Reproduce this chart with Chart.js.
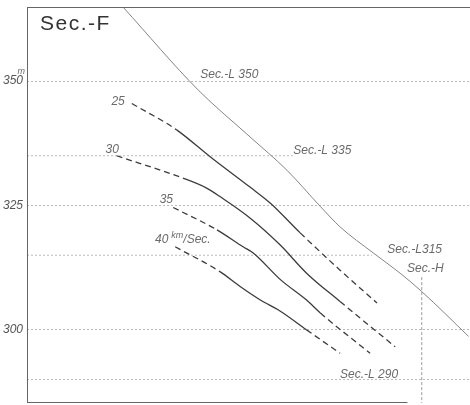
<!DOCTYPE html>
<html>
<head>
<meta charset="utf-8">
<script src="https://cdn.jsdelivr.net/npm/chart.js@4"></script>
<style>
  html, body { margin: 0; padding: 0; background: #fff; }
  #wrap { width: 470px; height: 405px; position: relative; }
</style>
</head>
<body>
<div id="wrap"><canvas id="secChart"></canvas></div>
<script>
// y-axis (height in m)
const gridLevels = [290, 300, 325, 350];
const labelledLevels = [300, 325, 350];

// velocity curves (km/Sec.)
const velocities = ['25', '30', '35', '40'];
const v25x = [21.3, 30.4, 37.2, 45.3, 49.4, 55.5, 63.6, 71.1];
const v25y = [345.5, 340.2, 334.8, 328.7, 325.5, 319.5, 312.0, 305.4];
const v30x = [18.2, 31.7, 36.5, 39.2, 45.3, 51.4, 56.8, 63.6, 74.8];
const v30y = [335.0, 330.5, 328.5, 326.8, 322.5, 317.1, 311.4, 305.7, 296.6];
const v35x = [29.7, 38.6, 43.9, 45.9, 51.6, 56.8, 59.6, 69.7];
const v35y = [324.6, 320.1, 316.7, 315.5, 310.0, 306.0, 303.4, 295.3];
const v40x = [30.1, 39.2, 43.3, 47.4, 51.4, 56.8, 63.6];
const v40y = [316.7, 311.7, 308.7, 306.0, 303.8, 300.0, 295.3];

// surface line
const topX = [19.5, 34.8, 45.3, 52.8, 59.6, 63.6, 70.3, 75.8, 80.2, 89.7];
const topY = [364.9, 348.2, 338.8, 332.1, 324.8, 320.7, 315.5, 311.4, 307.7, 298.7];

// sections
const secLevels = [335, 315];
const secEndX = [54.1, 70.1];
const secHx = 80.2;
const secHy = [310.6, 285.3];

const pts = (xs, ys) => xs.map((x, i) => ({ x: x, y: ys[i] }));

const curveColor = '#3c3c3c';
const labelColor = '#6a6a6a';
const gridColor = '#bcbcbc';
const fontFam = '"Liberation Sans", Arial, sans-serif';

function curveSet(xs, ys, solidFrom, solidTo) {
  return {
    data: pts(xs, ys),
    borderColor: curveColor,
    borderWidth: 1.3,
    pointRadius: 0,
    cubicInterpolationMode: 'monotone',
    segment: {
      borderDash: c => (c.p0DataIndex < solidFrom || c.p0DataIndex >= solidTo) ? [6, 4] : undefined
    }
  };
}

const datasets = [
  curveSet(v25x, v25y, 1, 5),
  curveSet(v30x, v30y, 1, 7),
  curveSet(v35x, v35y, 1, 6),
  curveSet(v40x, v40y, 1, 5),
  {
    data: pts(topX, topY),
    borderColor: '#777',
    borderWidth: 0.9,
    pointRadius: 0,
    cubicInterpolationMode: 'monotone'
  },
  {
    data: [{ x: secHx, y: secHy[0] }, { x: secHx, y: secHy[1] }],
    borderColor: '#9a9a9a',
    borderWidth: 1,
    borderDash: [3, 2],
    pointRadius: 0
  }
];
secLevels.forEach((lv, i) => {
  datasets.push({
    data: [{ x: 0, y: lv }, { x: secEndX[i], y: lv }],
    borderColor: gridColor,
    borderWidth: 1,
    borderDash: [2, 2],
    pointRadius: 0
  });
});

const labelPlugin = {
  id: 'labels',
  afterDatasetsDraw(chart) {
    const { ctx, scales: { x, y }, chartArea } = chart;
    const X = v => x.getPixelForValue(v);
    const Y = v => y.getPixelForValue(v);
    ctx.save();
    // frame: left, top and bottom edges
    ctx.strokeStyle = '#666';
    ctx.lineWidth = 1;
    ctx.beginPath();
    ctx.moveTo(chartArea.left + 0.5, chartArea.top);
    ctx.lineTo(chartArea.left + 0.5, chartArea.bottom);
    ctx.moveTo(chartArea.left, chartArea.top + 0.5);
    ctx.lineTo(chartArea.right, chartArea.top + 0.5);
    ctx.moveTo(chartArea.left, chartArea.bottom - 0.5);
    ctx.lineTo(X(77.3), chartArea.bottom - 0.5);
    ctx.stroke();

    // title
    ctx.fillStyle = '#333';
    ctx.font = '21px ' + fontFam;
    ctx.letterSpacing = '1.5px';
    ctx.textBaseline = 'top';
    ctx.textAlign = 'left';
    ctx.fillText('Sec.-F', chartArea.left + 13, chartArea.top + 7);
    ctx.letterSpacing = '0px';

    ctx.fillStyle = labelColor;
    ctx.font = 'italic 12px ' + fontFam;
    ctx.textBaseline = 'middle';
    const put = (t, xv, yv, align) => {
      ctx.textAlign = align || 'left';
      ctx.fillText(t, X(xv), Y(yv));
    };
    put('Sec.-L 350', 35.2, 351.4);
    put('Sec.-L 335', 54.1, 336.1);
    put('Sec.-L315', 73.2, 316.1);
    put('Sec.-H', 77.2, 312.4);
    put('Sec.-L 290', 63.6, 291.0);

    put(velocities[0], 18.5, 345.8, 'center');
    put(velocities[1], 17.3, 336.3, 'center');
    put(velocities[2], 28.3, 326.1, 'center');
    put(velocities[3], 26.0, 318.1);
    const w40 = ctx.measureText(velocities[3]).width;
    ctx.font = 'italic 9px ' + fontFam;
    ctx.textAlign = 'left';
    const kx = X(26.0) + w40 + 3;
    ctx.fillText('km', kx, Y(318.1) - 4);
    const wkm = ctx.measureText('km').width;
    ctx.font = 'italic 12px ' + fontFam;
    ctx.fillText('/Sec.', kx + wkm, Y(318.1));

    // unit mark on the axis
    ctx.font = 'italic 9px ' + fontFam;
    ctx.textAlign = 'right';
    ctx.fillText('m', chartArea.left - 2, Y(350) - 10);
    ctx.restore();
  }
};

new Chart(document.getElementById('secChart'), {
  type: 'line',
  data: { datasets: datasets },
  options: {
    responsive: true,
    maintainAspectRatio: false,
    animation: false,
    layout: { padding: { top: 7, right: 0, bottom: 2, left: 0 } },
    plugins: { legend: { display: false }, tooltip: { enabled: false } },
    scales: {
      x: {
        type: 'linear',
        display: false,
        min: 0,
        max: 90
      },
      y: {
        min: 285.3,
        max: 364.9,
        afterBuildTicks: s => { s.ticks = gridLevels.map(v => ({ value: v })); },
        afterFit: s => {
          s.width = 27;
          s.paddingTop = 0;
          s.paddingBottom = 0;
        },
        ticks: {
          padding: 4,
          color: '#555',
          font: { family: fontFam, size: 12, style: 'italic' },
          callback: v => labelledLevels.includes(v) ? String(v) : ''
        },
        grid: { color: gridColor, drawTicks: false, lineWidth: 1 },
        border: { display: false, dash: [2, 2] }
      }
    }
  },
  plugins: [labelPlugin]
});
</script>
</body>
</html>
